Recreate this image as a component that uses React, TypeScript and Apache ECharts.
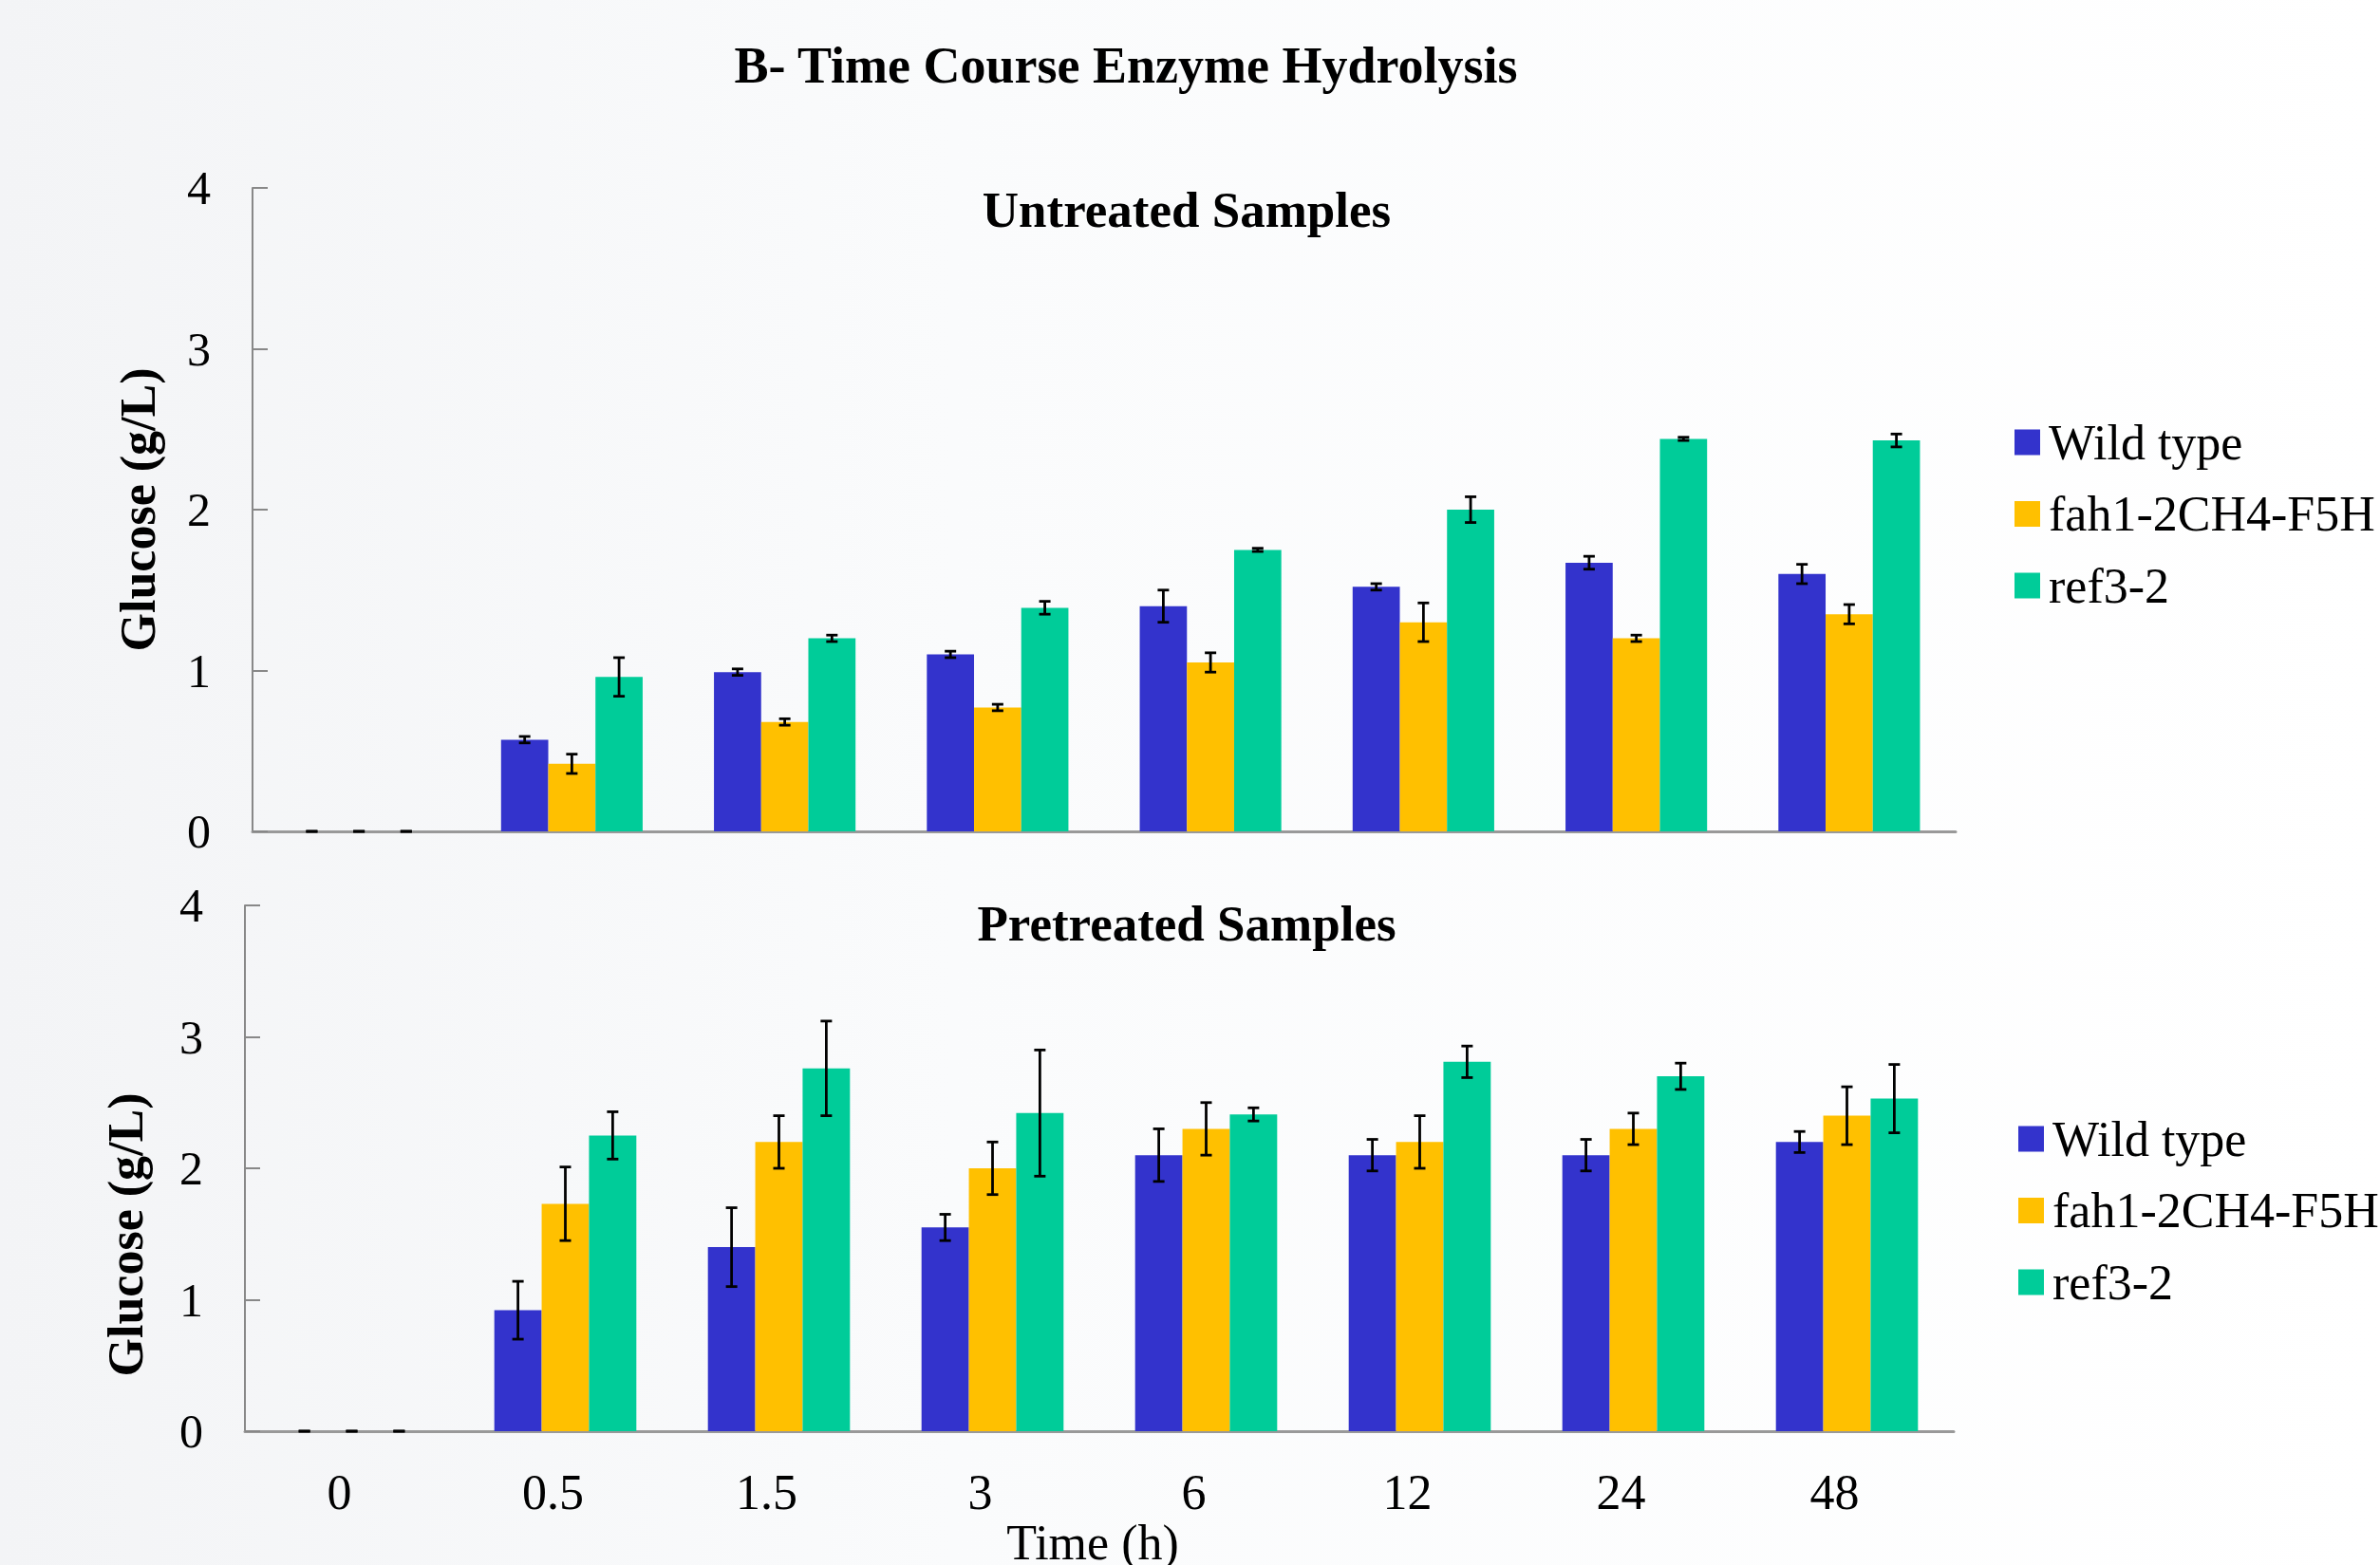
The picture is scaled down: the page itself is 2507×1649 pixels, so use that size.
import React, { useEffect, useRef } from "react";
import * as echarts from "echarts";

const categories = ["0", "0.5", "1.5", "3", "6", "12", "24", "48"];
const seriesNames = ["Wild type", "fah1-2CH4-F5H", "ref3-2"];
const colors = ["#3333CC", "#FFC000", "#00CC99"];

// Untreated samples (g/L)
const untreatedWT = [0, 0.57, 0.99, 1.1, 1.4, 1.52, 1.67, 1.6];
const untreatedWTErr = [0, 0.02, 0.02, 0.02, 0.1, 0.02, 0.04, 0.06];
const untreatedFah = [0, 0.42, 0.68, 0.77, 1.05, 1.3, 1.2, 1.35];
const untreatedFahErr = [0, 0.06, 0.02, 0.02, 0.06, 0.12, 0.02, 0.06];
const untreatedRef = [0, 0.96, 1.2, 1.39, 1.75, 2.0, 2.44, 2.43];
const untreatedRefErr = [0, 0.12, 0.02, 0.04, 0.01, 0.08, 0.01, 0.04];

// Pretreated samples (g/L)
const pretreatedWT = [0, 0.92, 1.4, 1.55, 2.1, 2.1, 2.1, 2.2];
const pretreatedWTErr = [0, 0.22, 0.3, 0.1, 0.2, 0.12, 0.12, 0.08];
const pretreatedFah = [0, 1.73, 2.2, 2.0, 2.3, 2.2, 2.3, 2.4];
const pretreatedFahErr = [0, 0.28, 0.2, 0.2, 0.2, 0.2, 0.12, 0.22];
const pretreatedRef = [0, 2.25, 2.76, 2.42, 2.41, 2.81, 2.7, 2.53];
const pretreatedRefErr = [0, 0.18, 0.36, 0.48, 0.05, 0.12, 0.1, 0.26];

const yTicks = [0, 1, 2, 3, 4];

const FONT = "'Times New Roman', 'Liberation Serif', serif";
const CAT_GAP = 0.335;

function errorSeries(gridIdx: number, sIdx: number, vals: number[], errs: number[]) {
  return {
    type: "custom",
    name: "err-" + gridIdx + "-" + sIdx,
    xAxisIndex: gridIdx,
    yAxisIndex: gridIdx,
    z: 10,
    encode: { x: 0, y: 1 },
    data: vals.map((v, i) => [i, v, errs[i]]),
    renderItem: (params: any, api: any) => {
      const ci = api.value(0);
      const v = api.value(1);
      const e = api.value(2);
      const top = api.coord([ci, v + e]);
      const bot = api.coord([ci, Math.max(0, v - e)]);
      const catW = api.size([1, 0])[0];
      const bw = (catW * (1 - CAT_GAP)) / 3;
      const x = top[0] + (sIdx - 1) * bw;
      const hw = 6;
      const st = { stroke: "#000", lineWidth: 2.8 };
      return {
        type: "group",
        children: [
          { type: "line", shape: { x1: x, y1: top[1], x2: x, y2: bot[1] }, style: st },
          { type: "line", shape: { x1: x - hw, y1: top[1], x2: x + hw, y2: top[1] }, style: st },
          { type: "line", shape: { x1: x - hw, y1: bot[1], x2: x + hw, y2: bot[1] }, style: st },
        ],
      };
    },
  };
}

function barSeries(gridIdx: number, sIdx: number, vals: number[]) {
  return {
    type: "bar",
    name: seriesNames[sIdx],
    xAxisIndex: gridIdx,
    yAxisIndex: gridIdx,
    data: vals,
    barGap: "0%",
    barCategoryGap: CAT_GAP * 100 + "%",
    itemStyle: { color: colors[sIdx] },
  };
}

function yAxisCfg(gridIdx: number) {
  return {
    type: "value",
    gridIndex: gridIdx,
    min: 0,
    max: 4,
    interval: 1,
    splitLine: { show: false },
    axisLine: { show: true, lineStyle: { color: "#888", width: 2 } },
    axisTick: { show: true, inside: true, length: 16, lineStyle: { color: "#888", width: 2 } },
    axisLabel: {
      fontSize: 50,
      fontFamily: FONT,
      color: "#000",
      margin: 44,
      formatter: (v: number) => (yTicks.indexOf(v) >= 0 ? String(v) : ""),
    },
  };
}

function xAxisCfg(gridIdx: number, showLabels: boolean) {
  return {
    type: "category",
    gridIndex: gridIdx,
    data: categories,
    axisLine: { show: true, lineStyle: { color: "#999", width: 3 } },
    axisTick: { show: false },
    axisLabel: {
      show: showLabels,
      fontSize: 52,
      fontFamily: FONT,
      color: "#000",
      margin: 38,
      padding: [0, 26, 0, 0],
    },
  };
}

function legendCfg(left: number, top: number, gap: number) {
  return {
    orient: "vertical",
    left,
    top,
    itemWidth: 27,
    itemHeight: 27,
    itemGap: gap,
    icon: "rect",
    data: seriesNames,
    textStyle: { fontSize: 52, lineHeight: 50, fontFamily: FONT, color: "#000", padding: [0, 0, 0, 4] },
  };
}

export default function App() {
  const ref = useRef<HTMLDivElement>(null);
  useEffect(() => {
    if (!ref.current) return;
    const chart = echarts.init(ref.current, undefined, { renderer: "svg" });
    const option: any = {
      animation: false,
      backgroundColor: "transparent",
      grid: [
        { left: 266, top: 198, width: 1794, height: 678 },
        { left: 258, top: 954, width: 1800, height: 554 },
      ],
      xAxis: [xAxisCfg(0, false), xAxisCfg(1, true)],
      yAxis: [yAxisCfg(0), yAxisCfg(1)],
      legend: [legendCfg(2117, 435, 23.5), legendCfg(2121, 1169, 23.5)],
      graphic: [
        {
          type: "text",
          x: 1186,
          y: 69,
          style: { text: "B- Time Course Enzyme Hydrolysis", font: "bold 54px " + FONT, fill: "#000", align: "center", verticalAlign: "middle" },
        },
        {
          type: "text",
          x: 1250,
          y: 221,
          style: { text: "Untreated Samples", font: "bold 53px " + FONT, fill: "#000", align: "center", verticalAlign: "middle" },
        },
        {
          type: "text",
          x: 1250,
          y: 973,
          style: { text: "Pretreated Samples", font: "bold 53px " + FONT, fill: "#000", align: "center", verticalAlign: "middle" },
        },
        {
          type: "text",
          x: 145,
          y: 537,
          rotation: Math.PI / 2,
          style: { text: "Glucose (g/L)", font: "bold 52px " + FONT, fill: "#000", align: "center", verticalAlign: "middle" },
        },
        {
          type: "text",
          x: 132,
          y: 1301,
          rotation: Math.PI / 2,
          style: { text: "Glucose (g/L)", font: "bold 52px " + FONT, fill: "#000", align: "center", verticalAlign: "middle" },
        },
        {
          type: "text",
          x: 1151,
          y: 1625,
          style: { text: "Time (h)", font: "52px " + FONT, fill: "#000", align: "center", verticalAlign: "middle" },
        },
      ],
      series: [
        barSeries(0, 0, untreatedWT),
        barSeries(0, 1, untreatedFah),
        barSeries(0, 2, untreatedRef),
        barSeries(1, 0, pretreatedWT),
        barSeries(1, 1, pretreatedFah),
        barSeries(1, 2, pretreatedRef),
        errorSeries(0, 0, untreatedWT, untreatedWTErr),
        errorSeries(0, 1, untreatedFah, untreatedFahErr),
        errorSeries(0, 2, untreatedRef, untreatedRefErr),
        errorSeries(1, 0, pretreatedWT, pretreatedWTErr),
        errorSeries(1, 1, pretreatedFah, pretreatedFahErr),
        errorSeries(1, 2, pretreatedRef, pretreatedRefErr),
      ],
    };
    chart.setOption(option);
    return () => chart.dispose();
  }, []);
  return (
    <div
      ref={ref}
      style={{
        position: "fixed",
        left: 0,
        top: 0,
        width: 2507,
        height: 1649,
        background: "linear-gradient(to right, #f3f4f6 0%, #fafbfc 40%, #ffffff 100%)",
      }}
    />
  );
}
